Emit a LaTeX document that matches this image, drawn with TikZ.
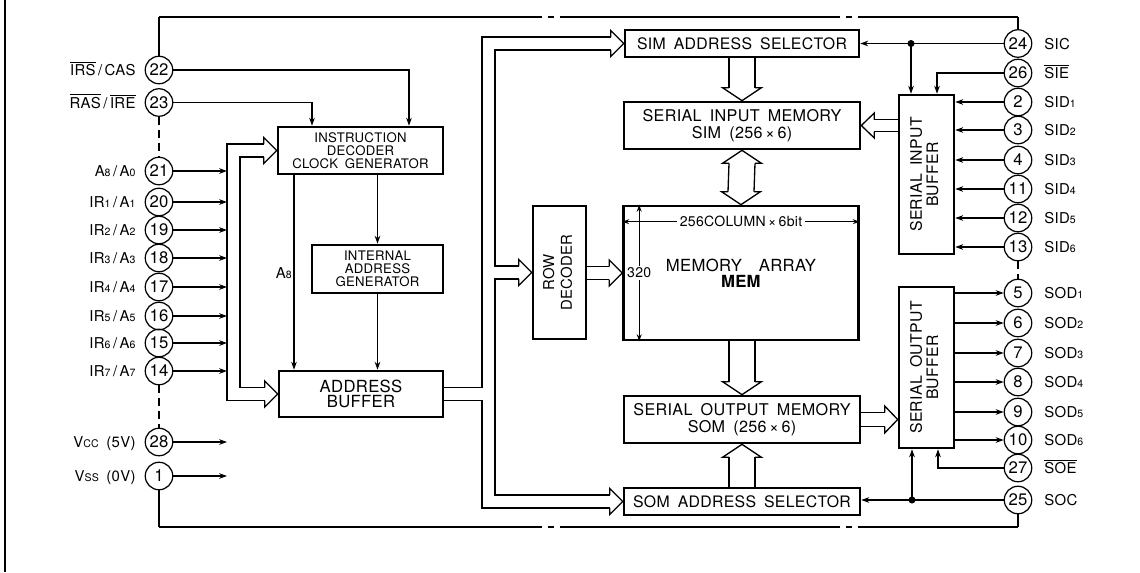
\documentclass[tikz,border=0pt]{standalone}
\usepackage{fontspec}
\setmainfont{TeX Gyre Heros}[WordSpace=1.7, LetterSpace=2]
\usepackage{graphicx}
\usepackage{tikz}
\usetikzlibrary{arrows.meta, positioning}
\newcommand{\sd}[1]{{\fontsize{6}{6}\selectfont #1}}
\newcommand{\ovl}[1]{$\overline{\mbox{#1}}$}
\newcommand{\vtxt}[1]{\rotatebox{90}{\begin{tabular}{@{}c@{}}#1\end{tabular}}}

\begin{document}
\begin{tikzpicture}[
    x=0.02cm, y=-0.02cm,
    blk/.style={rectangle, draw, line width=1.5pt, align=center, inner sep=1pt},
    pin/.style={circle, draw, line width=0.7pt, minimum size=0.55cm, inner sep=0pt,
                font=\fontsize{9.5}{9.5}\selectfont},
    lbl/.style={inner sep=1pt, text height=1.5ex, text depth=0.25ex, font=\fontsize{8.5}{9}\selectfont},
    sig/.style={-{Stealth[length=4.5pt, width=3.2pt]}, line width=0.7pt},
    dim/.style={{Stealth[length=4pt, width=2.8pt]}-{Stealth[length=4pt, width=2.8pt]}, line width=0.6pt},
    bus/.style={line width=0.75pt},
    pkg/.style={line width=0.7pt},
    pkgline/.style={pkg, dash pattern=on 7.66cm off 0.12cm on 0.12cm off 0.12cm on 5.6cm off 0.12cm on 0.12cm off 0.12cm on 12cm},
    gap/.style={line width=0.7pt, dash pattern=on 1.6mm off 1mm},
    pics/hd/.style={code={
        \draw[bus] (-13,-#1) -- (-13,-#1-6.5) -- (0,0) -- (-13,#1+6.5) -- (-13,#1);
        \coordinate (-a) at (-13,-#1); \coordinate (-b) at (-13,#1);}}
]
\useasboundingbox (0,0) rectangle (1140,572);
\draw[line width=1.6pt] (5,0) -- (5,572);

% pins, left
\node[pin] (p22) at (159,70) {22};    \node[lbl, left=0.14cm of p22] (l22) {\ovl{IRS}\,/\,CAS};
\node[pin] (p23) at (159,102.5) {23}; \node[lbl, left=0.14cm of p23] (l23) {\ovl{RAS}\,/\,\ovl{IRE}};
\node[pin] (p21) at (159,171) {21};   \node[lbl, left=0.14cm of p21] (l21) {A\sd8\,/\,A\sd0};
\node[pin] (p20) at (159,202) {20};   \node[lbl, left=0.14cm of p20] (l20) {IR\sd1\,/\,A\sd1};
\node[pin] (p19) at (159,230) {19};   \node[lbl, left=0.14cm of p19] (l19) {IR\sd2\,/\,A\sd2};
\node[pin] (p18) at (159,258) {18};   \node[lbl, left=0.14cm of p18] (l18) {IR\sd3\,/\,A\sd3};
\node[pin] (p17) at (159,287) {17};   \node[lbl, left=0.14cm of p17] (l17) {IR\sd4\,/\,A\sd4};
\node[pin] (p16) at (159,316) {16};   \node[lbl, left=0.14cm of p16] (l16) {IR\sd5\,/\,A\sd5};
\node[pin] (p15) at (159,343) {15};   \node[lbl, left=0.14cm of p15] (l15) {IR\sd6\,/\,A\sd6};
\node[pin] (p14) at (159,371) {14};   \node[lbl, left=0.14cm of p14] (l14) {IR\sd7\,/\,A\sd7};
\node[pin] (p28) at (159,442) {28};   \node[lbl, left=0.14cm of p28] (l28) {V\sd{CC}\ (5V)};
\node[pin] (p1) at (159,476) {1};     \node[lbl, left=0.14cm of p1] (l1) {V\sd{SS}\ (0V)};

% pins, right
\node[pin] (p24) at (1018,43.5) {24}; \node[lbl, right=0.2cm of p24] (l24) {SIC};
\node[pin] (p26) at (1018,73) {26};   \node[lbl, right=0.2cm of p26] (l26) {\ovl{SIE}};
\node[pin] (p2) at (1018,102) {2};    \node[lbl, right=0.2cm of p2] (l2) {SID\sd1};
\node[pin] (p3) at (1018,130) {3};    \node[lbl, right=0.2cm of p3] (l3) {SID\sd2};
\node[pin] (p4) at (1018,160) {4};    \node[lbl, right=0.2cm of p4] (l4) {SID\sd3};
\node[pin] (p11) at (1018,189) {11};  \node[lbl, right=0.2cm of p11] (l11) {SID\sd4};
\node[pin] (p12) at (1018,218) {12};  \node[lbl, right=0.2cm of p12] (l12) {SID\sd5};
\node[pin] (p13) at (1018,247) {13};  \node[lbl, right=0.2cm of p13] (l13) {SID\sd6};
\node[pin] (p5) at (1018,293) {5};    \node[lbl, right=0.2cm of p5] (l5) {SOD\sd1};
\node[pin] (p6) at (1018,323) {6};    \node[lbl, right=0.2cm of p6] (l6) {SOD\sd2};
\node[pin] (p7) at (1018,353) {7};    \node[lbl, right=0.2cm of p7] (l7) {SOD\sd3};
\node[pin] (p8) at (1018,382) {8};    \node[lbl, right=0.2cm of p8] (l8) {SOD\sd4};
\node[pin] (p9) at (1018,412) {9};    \node[lbl, right=0.2cm of p9] (l9) {SOD\sd5};
\node[pin] (p10) at (1018,440) {10};  \node[lbl, right=0.2cm of p10] (l10) {SOD\sd6};
\node[pin] (p27) at (1018,468) {27};  \node[lbl, right=0.2cm of p27] (l27) {\ovl{SOE}};
\node[pin] (p25) at (1018,500) {25};  \node[lbl, right=0.2cm of p25] (l25) {SOC};

% package outline
\coordinate (ftl) at (p22 |- 0,17);  \coordinate (ftr) at (p24 |- 0,17);
\coordinate (fbl) at (p1 |- 0,527);  \coordinate (fbr) at (p25 |- 0,527);
\draw[pkg] (p22.north) -- (ftl);
\draw[pkgline] (ftl) -- (ftr);
\draw[pkg] (ftr) -- (p24.north);
\draw[pkg] (p1.south) -- (fbl);
\draw[pkgline] (fbl) -- (fbr);
\draw[pkg] (fbr) -- (p25.south);
\draw[gap] (p23.south) -- (p21.north);
\draw[gap] (p14.south) -- (p28.north);
\draw[gap] (p13.south) -- (p5.north);

% blocks
\node[blk, minimum width=3.3cm, minimum height=0.94cm, font=\fontsize{7.5}{7.5}\selectfont] (idec) at (360.5,150.5) {INSTRUCTION\\DECODER\\CLOCK GENERATOR};
\node[blk, minimum width=2.62cm, minimum height=0.96cm, font=\fontsize{7.5}{7.5}\selectfont] (iag) at (377.5,269) {INTERNAL\\ADDRESS\\GENERATOR};
\node[blk, minimum width=3.28cm, minimum height=0.92cm, font=\fontsize{9.5}{9}\selectfont] (ab) at (361,394) {ADDRESS\\BUFFER};
\node[blk, minimum width=1.06cm, minimum height=2.66cm, font=\fontsize{8.5}{10}\selectfont] (rd) at (559.5,272.5) {\vtxt{ROW\\DECODER}};
\node[blk, minimum width=4.7cm, minimum height=2.68cm, font=\fontsize{9.5}{9}\selectfont] (mem) at (741,273) {MEMORY\ \ ARRAY\\\textbf{MEM}};
\node[blk, minimum width=4.68cm, minimum height=0.54cm, font=\fontsize{9}{9}\selectfont] (simsel) at (742,43.5) {SIM ADDRESS SELECTOR};
\node[blk, minimum width=4.72cm, minimum height=0.94cm, font=\fontsize{9.2}{9.8}\selectfont] (sim) at (742,125.5) {SERIAL INPUT MEMORY\\SIM (256\,×\,6)};
\node[blk, minimum width=4.72cm, minimum height=0.94cm, font=\fontsize{9.2}{9.8}\selectfont] (som) at (742,419.5) {SERIAL OUTPUT MEMORY\\SOM (256\,×\,6)};
\node[blk, minimum width=4.72cm, minimum height=0.54cm, font=\fontsize{9}{9}\selectfont] (somsel) at (742,501.5) {SOM ADDRESS SELECTOR};
\node[blk, minimum width=1.1cm, minimum height=3.18cm, font=\fontsize{9}{9}\selectfont] (sib) at (926.5,174.5) {\vtxt{SERIAL INPUT\\BUFFER}};
\node[blk, minimum width=1.1cm, minimum height=3.22cm, font=\fontsize{9}{9}\selectfont] (sob) at (926.5,367.5) {\vtxt{SERIAL OUTPUT\\BUFFER}};

% memory array dimensions
\draw[dim] ([yshift=-0.34cm]mem.north west) -- ([yshift=-0.34cm]mem.north east)
    node[midway, fill=white, inner sep=1.5pt, font=\fontsize{8}{8}\selectfont] (mcol) {256COLUMN\,×\,6bit};
\draw[dim] ([xshift=0.34cm]mem.north west) -- ([xshift=0.34cm]mem.south west)
    node[midway, fill=white, inner sep=1pt, font=\fontsize{8}{8}\selectfont] (mrow) {320};

% bus heads
\pic (hid) at (idec.west) {hd=6.5};
\pic (hab) at (ab.west) {hd=6.5};
\pic (hss) at (simsel.west) {hd=6.5};
\pic (hrd) at (rd.west) {hd=6.5};
\pic (hso) at (somsel.west) {hd=6.5};
\pic (hmm) at (mem.west) {hd=6.5};
\pic[rotate=-90] (hs1) at (sim.north) {hd=13};
\pic[rotate=90] (hs2) at (sim.south) {hd=13};
\pic[rotate=-90] (hm2) at (mem.north) {hd=13};
\pic[rotate=-90] (ho1) at (som.north) {hd=13};
\pic[rotate=90] (ho2) at (som.south) {hd=13};
\pic[rotate=180] (hsr) at (sim.east) {hd=6};
\pic (hob) at (sob.west |- som.east) {hd=7};

% buses
\coordinate (bl1) at (227,0);  \coordinate (bl2) at (240,0);
\coordinate (br1) at (482,0);  \coordinate (br2) at (495,0);
\draw[bus] (hid-a) -| (bl1 |- hab-b) -- (hab-b);
\draw[bus] (hid-b) -| (bl2 |- hab-a) -- (hab-a);
\draw[bus] (ab.east |- hab-a) -| (br1 |- hss-a) -- (hss-a);
\draw[bus] (hss-b) -| (br2 |- hrd-a) -- (hrd-a);
\draw[bus] (hrd-b) -| (br2 |- hso-a) -- (hso-a);
\draw[bus] (ab.east |- hab-b) -| (br1 |- hso-b) -- (hso-b);
\draw[bus] (rd.east |- hmm-a) -- (hmm-a);
\draw[bus] (rd.east |- hmm-b) -- (hmm-b);
\draw[bus] (simsel.south -| hs1-a) -- (hs1-a);
\draw[bus] (simsel.south -| hs1-b) -- (hs1-b);
\draw[bus] (hs2-a) -- (hm2-b);
\draw[bus] (hs2-b) -- (hm2-a);
\draw[bus] (mem.south -| ho1-a) -- (ho1-a);
\draw[bus] (mem.south -| ho1-b) -- (ho1-b);
\draw[bus] (somsel.north -| ho2-a) -- (ho2-a);
\draw[bus] (somsel.north -| ho2-b) -- (ho2-b);
\draw[bus] (sib.west |- hsr-a) -- (hsr-a);
\draw[bus] (sib.west |- hsr-b) -- (hsr-b);
\draw[bus] (som.east |- hob-a) -- (hob-a);
\draw[bus] (som.east |- hob-b) -- (hob-b);

% control and data lines, left
\draw[sig] (p22.east) -| (idec.north -| 409,0);
\draw[sig] (p23.east) -| (idec.north -| 312,0);
\draw[sig] (p21.east) -- (p21 -| bl1);
\draw[sig] (p20.east) -- (p20 -| bl1);
\draw[sig] (p19.east) -- (p19 -| bl1);
\draw[sig] (p18.east) -- (p18 -| bl1);
\draw[sig] (p17.east) -- (p17 -| bl1);
\draw[sig] (p16.east) -- (p16 -| bl1);
\draw[sig] (p15.east) -- (p15 -| bl1);
\draw[sig] (p14.east) -- (p14 -| bl1);
\draw[sig] (p28.east) -- (p28 -| bl1);
\draw[sig] (p1.east) -- (p1 -| bl1);
\draw[sig] (idec.south -| 294,0) -- (ab.north -| 294,0)
    node[midway, left, lbl] (la8) {A\sd8};
\draw[sig] (idec.south -| iag.north) -- (iag.north);
\draw[sig] (iag.south) -- (iag.south |- ab.north);

% control and data lines, right
\draw[sig] (p24.west) -- (p24 -| simsel.east);
\coordinate (j24) at (p24 -| 911,0);
\fill (j24) circle (2pt);
\draw[sig] (j24) -- (j24 |- sib.north);
\draw[sig] (p26.west) -| (sib.north -| 937,0);
\draw[sig] (p2.west) -- (p2 -| sib.east);
\draw[sig] (p3.west) -- (p3 -| sib.east);
\draw[sig] (p4.west) -- (p4 -| sib.east);
\draw[sig] (p11.west) -- (p11 -| sib.east);
\draw[sig] (p12.west) -- (p12 -| sib.east);
\draw[sig] (p13.west) -- (p13 -| sib.east);
\draw[sig] (p5 -| sob.east) -- (p5.west);
\draw[sig] (p6 -| sob.east) -- (p6.west);
\draw[sig] (p7 -| sob.east) -- (p7.west);
\draw[sig] (p8 -| sob.east) -- (p8.west);
\draw[sig] (p9 -| sob.east) -- (p9.west);
\draw[sig] (p10 -| sob.east) -- (p10.west);
\draw[sig] (p27.west) -| (sob.south -| 938,0);
\draw[sig] (p25.west) -- (p25 -| somsel.east);
\coordinate (j25) at (p25 -| 912,0);
\fill (j25) circle (2pt);
\draw[sig] (j25) -- (j25 |- sob.south);

\end{tikzpicture}
\end{document}
